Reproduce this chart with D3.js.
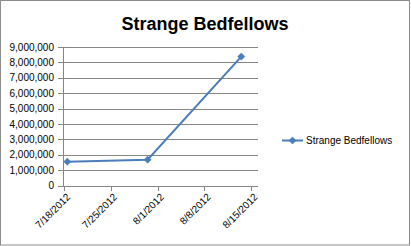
<!DOCTYPE html>
<html><head><meta charset="utf-8">
<script src="https://cdn.jsdelivr.net/npm/d3@7"></script>
<style>body{margin:0;background:#fff}svg{display:block}text{font-family:"Liberation Sans",Arial,sans-serif}</style>
</head><body><svg id="c" width="411" height="246"></svg>
<script>
const title = "Strange Bedfellows";
const seriesName = "Strange Bedfellows";
const dates = ["2012-07-18", "2012-07-30", "2012-08-13"];
const values = [1560000, 1690000, 8380000];
const xTickDates = ["2012-07-18", "2012-07-25", "2012-08-01", "2012-08-08", "2012-08-15"];
const yTicks = [0,1000000,2000000,3000000,4000000,5000000,6000000,7000000,8000000,9000000];

const svg = d3.select("#c");
const parse = d3.timeParse("%Y-%m-%d");
const m = {l:63, r:258, t:47, b:185.7};

svg.append("rect").attr("x",0.5).attr("y",0.5).attr("width",409).attr("height",244.5)
  .attr("fill","#fff").attr("stroke","#8c8c8c");

const x = d3.scaleTime().domain([parse("2012-07-18"), parse("2012-08-16")]).range([m.l+1, m.r]);
const y = d3.scaleLinear().domain([0,9000000]).range([m.b, m.t]);
const halfDay = 12*3600*1000;

svg.append("g").selectAll("line").data(yTicks).join("line")
  .attr("x1",m.l-5).attr("x2",m.r).attr("y1",d=>Math.round(y(d))+0.5).attr("y2",d=>Math.round(y(d))+0.5)
  .attr("stroke","#868686").attr("stroke-width",1);
svg.append("line").attr("x1",m.l+0.5).attr("x2",m.l+0.5).attr("y1",m.t).attr("y2",Math.round(m.b)+0.5)
  .attr("stroke","#868686");
const fmt = d3.format(",");
svg.append("g").selectAll("text").data(yTicks).join("text")
  .attr("x",54).attr("y",d=>y(d)+3.5).attr("text-anchor","end")
  .attr("font-size",10).attr("fill","#000").text(d=>fmt(d));
const xt = xTickDates.map(parse);
svg.append("g").selectAll("line").data(xt).join("line")
  .attr("x1",d=>Math.round(x(d))+0.5).attr("x2",d=>Math.round(x(d))+0.5)
  .attr("y1",Math.round(m.b)).attr("y2",Math.round(m.b)+5).attr("stroke","#868686");
const xfmt = d=>(d.getMonth()+1)+"/"+d.getDate()+"/"+d.getFullYear();
svg.append("g").selectAll("text").data(xt).join("text")
  .attr("transform",d=>`translate(${x(d)+2},${m.b+7}) rotate(-45)`)
  .attr("text-anchor","end").attr("dy","0.7em").attr("font-size",10).attr("fill","#000").text(xfmt);

const pts = dates.map((d,i)=>({x:x(new Date(parse(d).getTime()+halfDay)), y:y(values[i])}));
svg.append("path").datum(pts).attr("d",d3.line().x(d=>d.x).y(d=>d.y))
  .attr("fill","none").attr("stroke","#4a7ebb").attr("stroke-width",2);
svg.append("g").selectAll("path").data(pts).join("path")
  .attr("d",d3.symbol().type(d3.symbolSquare).size(26)).attr("transform",d=>`translate(${d.x},${d.y}) rotate(45)`)
  .attr("fill","#4a7ebb").attr("stroke","#4a7ebb").attr("stroke-width",0.5);

svg.append("line").attr("x1",282).attr("x2",303).attr("y1",140.5).attr("y2",140.5)
  .attr("stroke","#4a7ebb").attr("stroke-width",2);
svg.append("path").attr("d",d3.symbol().type(d3.symbolSquare).size(26)).attr("transform","translate(292.5,140.5) rotate(45)")
  .attr("fill","#4a7ebb").attr("stroke","#4a7ebb").attr("stroke-width",0.5);
svg.append("text").attr("x",306).attr("y",144).attr("font-size",10).attr("fill","#000").text(seriesName);

svg.append("text").attr("x",205).attr("y",30).attr("text-anchor","middle")
  .attr("font-size",18).attr("font-weight","bold").attr("fill","#000").text(title);
</script></body></html>
